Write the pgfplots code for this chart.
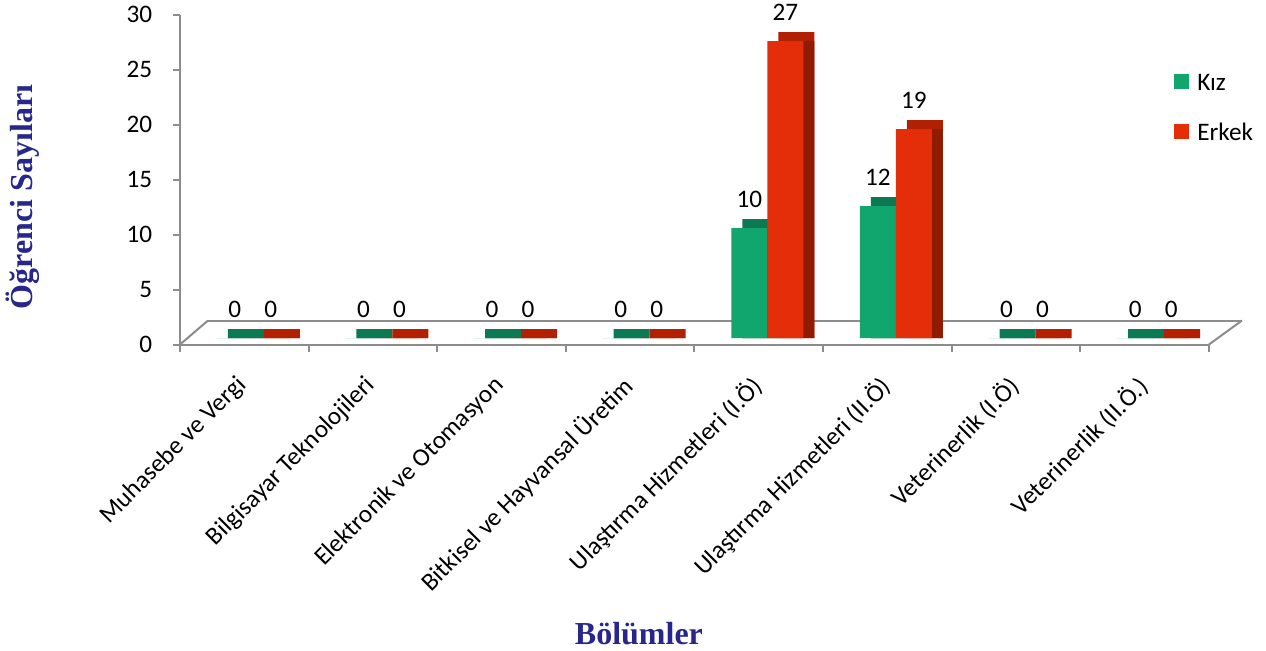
\documentclass[border=0pt]{standalone}
\usepackage{fontspec}
\setmainfont{Carlito}
\newfontfamily\tnr{Liberation Serif}
\usepackage{pgfplots}
\usepackage{pgfplotstable}
\pgfplotsset{compat=1.18}
\definecolor{gfront}{RGB}{16,166,110}
\definecolor{gtop}{RGB}{11,122,82}
\definecolor{gside}{RGB}{8,98,64}
\definecolor{rfront}{RGB}{228,46,10}
\definecolor{rtop}{RGB}{178,32,4}
\definecolor{rside}{RGB}{142,27,2}
\definecolor{axgray}{RGB}{140,140,140}
\definecolor{lblue}{RGB}{38,38,140}

\pgfplotstableread{
x kiz erkek
0 0 0
1 0 0
2 0 0
3 0 0
4 10 27
5 12 19
6 0 0
7 0 0
}\data

\begin{document}
\begin{tikzpicture}[font=\fontsize{12.6}{15}\selectfont]
\useasboundingbox (-90pt,-152.75pt) rectangle (543pt,172.25pt);
\begin{axis}[
  scale only axis, width=514.5pt, height=165pt,
  xmin=-0.5, xmax=7.5, ymin=0, ymax=30,
  clip=false,
  axis x line*=bottom, axis y line*=left,
  axis line style={axgray, line width=1pt},
  ytick={0,5,...,30},
  tick align=outside,
  major tick length=3.5pt, minor tick length=3.5pt,
  tick style={axgray, line width=1pt},
  xtick={0,...,7},
  major x tick style={draw=none},
  minor xtick={-0.5,0.5,...,7.5},
  xticklabels={Muhasebe ve Vergi, Bilgisayar Teknolojileri, Elektronik ve Otomasyon, Bitkisel ve Hayvansal Üretim, Ulaştırma Hizmetleri (I.Ö), Ulaştırma Hizmetleri (II.Ö), Veterinerlik (I.Ö), Veterinerlik (II.Ö.)},
  xticklabel style={xshift=-4.75pt, yshift=-11pt, rotate=45, anchor=north east, inner sep=0pt},
  yticklabel style={anchor=east, inner sep=0pt, xshift=-10.25pt},
  /pgf/number format/assume math mode=true,
  ylabel={\tnr\bfseries\fontsize{16}{19}\selectfont Öğrenci Sayıları},
  ylabel style={at={(axis description cs:-0.1526,0.447)}, anchor=center, text=lblue},
  xlabel={\tnr\bfseries\fontsize{16}{19}\selectfont Bölümler},
  xlabel style={at={(axis description cs:0.446,-0.877)}, anchor=center, text=lblue},
  legend style={draw=none, fill=none, at={(axis description cs:0.966,0.82)}, anchor=north west,
    inner sep=0pt, nodes={inner sep=0pt}, row sep=15pt,
    /tikz/every odd column/.append style={column sep=4pt}},
  legend cell align=left,
  legend image code/.code={\fill[#1] (0pt,-6pt) rectangle (7.5pt,1.5pt);},
  nodes near coords style={anchor=south, inner sep=0pt, yshift=10pt, text=black},
]
% floor outline
\draw[axgray, line width=1pt] (axis cs:-0.5,0) -- ++(14pt,12pt) coordinate (fa);
\draw[axgray, line width=1pt] (axis cs:7.5,0) -- ++(16.5pt,12pt) coordinate (fb);
\draw[axgray, line width=1pt] (fa) -- (fb);
% Kiz
\addplot[ybar, bar width=18pt, bar shift=0.75pt, fill=gtop, draw=none, yshift=3.25pt, forget plot]
  table[x=x, y expr=\thisrow{kiz}+0.818] {\data};
\addplot[ybar, bar width=18pt, bar shift=0.75pt, fill=gside, draw=none, yshift=3.25pt, forget plot]
  table[x=x, y=kiz] {\data};
\addplot[ybar, bar width=18pt, bar shift=-4.75pt, fill=gfront, draw=none, yshift=3.25pt, nodes near coords,
  every node near coord/.append style={xshift=-4.75pt}]
  table[x=x, y=kiz] {\data};
\addlegendentry{Kız}
% Erkek
\addplot[ybar, bar width=18pt, bar shift=18.75pt, fill=rtop, draw=none, yshift=3.25pt, forget plot]
  table[x=x, y expr=\thisrow{erkek}+0.818] {\data};
\addplot[ybar, bar width=18pt, bar shift=18.75pt, fill=rside, draw=none, yshift=3.25pt, forget plot]
  table[x=x, y=erkek] {\data};
\addplot[ybar, bar width=18pt, bar shift=13.25pt, fill=rfront, draw=none, yshift=3.25pt, nodes near coords,
  every node near coord/.append style={xshift=13.25pt}]
  table[x=x, y=erkek] {\data};
\addlegendentry{Erkek}
\end{axis}
\end{tikzpicture}
\end{document}
